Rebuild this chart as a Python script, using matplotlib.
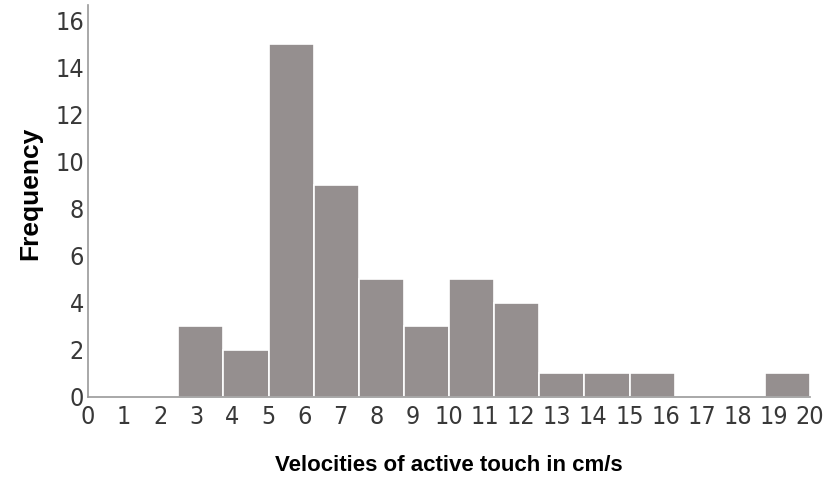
import matplotlib
matplotlib.use("Agg")
import matplotlib.pyplot as plt
import numpy as np
from matplotlib import font_manager
from matplotlib.font_manager import FontProperties

# look for a narrow sans font for the tick labels (reference uses a condensed face)
narrow_path = None
for f in font_manager.fontManager.ttflist:
    fn = f.fname.lower()
    if ("liberationsansnarrow-regular" in fn.replace(" ", "").replace("_", "")
            or fn.endswith("dejavusanscondensed.ttf")
            or fn.endswith("robotocondensed-regular.ttf")):
        narrow_path = f.fname
        break

bin_edges = [0, 1.25, 2.5, 3.75, 5.0, 6.25, 7.5, 8.75, 10.0, 11.25, 12.5, 13.75, 15.0, 16.25, 17.5, 18.75, 20.0]
counts = [0, 0, 3, 2, 15, 9, 5, 3, 5, 4, 1, 1, 1, 0, 0, 1]
x_ticks = list(range(0, 21))
y_ticks = list(range(0, 17, 2))

fig = plt.figure(figsize=(8.34, 4.78), dpi=100)
ax = fig.add_axes([88 / 834, 81.5 / 478, 722 / 834, 391.5 / 478])

lefts = np.array(bin_edges[:-1])
widths = np.diff(bin_edges)
ax.bar(lefts, counts, width=widths, align="edge", color="#958f8f",
       edgecolor="white", linewidth=1.2)

ax.set_xlim(0, 20)
ax.set_ylim(0, 16.66)
ax.set_xticks(x_ticks)
ax.set_yticks(y_ticks)
ax.tick_params(length=0, colors="#383838")
ax.tick_params(axis="x", pad=6)
ax.tick_params(axis="y", pad=3)
if narrow_path:
    tp = FontProperties(fname=narrow_path, size=18)
else:
    tp = FontProperties(family="Liberation Sans", size=16)
for lab in ax.get_xticklabels() + ax.get_yticklabels():
    lab.set_fontproperties(tp)

for s in ["top", "right"]:
    ax.spines[s].set_visible(False)
for s in ["left", "bottom"]:
    ax.spines[s].set_color("#999999")
    ax.spines[s].set_linewidth(1.2)

ax.set_xlabel("Velocities of active touch in cm/s", fontsize=16, fontweight="bold",
              family="Liberation Sans", labelpad=19)
ax.set_ylabel("Frequency", fontsize=19, fontweight="bold",
              family="Liberation Sans")
ax.yaxis.set_label_coords(-0.064, 0.52)

fig.savefig("out.png", dpi=100, facecolor="white")
